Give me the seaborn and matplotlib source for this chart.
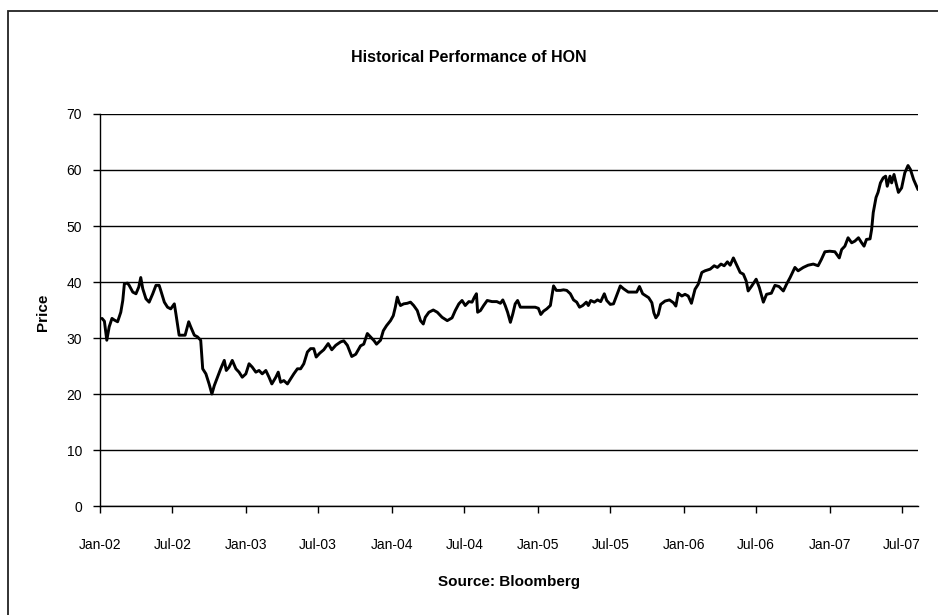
import pandas as pd
import matplotlib
matplotlib.use("Agg")
import matplotlib.pyplot as plt
import matplotlib.dates as mdates
from matplotlib.patches import Rectangle
import seaborn as sns

# Dữ liệu: số ngày kể từ 01/01/2002 và giá
day_offset = [
    5, 11, 17, 23, 30, 36, 44, 52, 57, 61, 69, 73, 82, 90, 97, 102, 107, 115, 123, 132,
    140, 148, 152, 161, 169, 177, 186, 190, 198, 207, 213, 222, 227, 236, 244, 252, 257, 265, 273, 280,
    286, 294, 302, 311, 316, 323, 331, 340, 348, 356, 365, 373, 381, 390, 398, 406, 415, 423, 430, 440,
    446, 452, 460, 469, 477, 485, 494, 502, 510, 519, 527, 535, 541, 550, 560, 571, 580, 590, 602, 610,
    619, 630, 640, 652, 660, 669, 677,
    686, 692, 702, 709, 717, 727, 734, 739, 744, 748, 752, 760, 769, 777, 785, 794, 802, 809, 814, 823,
    834, 844, 856, 869, 881, 889, 898, 906, 914, 923, 931, 937, 942, 945, 952, 960, 969, 981, 993, 1002,
    1008, 1014, 1020, 1027, 1033, 1039, 1045, 1052, 1064, 1077, 1089, 1097, 1103, 1110, 1118, 1127, 1131, 1135, 1142, 1152,
    1160, 1168, 1177, 1185, 1193, 1200, 1208, 1217, 1222, 1228, 1237, 1245, 1253, 1262, 1268, 1277, 1285, 1293, 1302, 1310,
    1322, 1335, 1343, 1350, 1358,
    1373, 1381, 1386, 1391, 1397, 1403, 1414, 1425, 1435, 1441, 1447, 1456, 1464, 1472, 1480, 1489, 1497, 1506, 1514, 1527,
    1537, 1545, 1554, 1562, 1570, 1577, 1585, 1594, 1602, 1610, 1617, 1622, 1631, 1642, 1650, 1660, 1668, 1680, 1689, 1699,
    1710, 1718, 1727, 1739, 1747, 1760, 1772, 1785, 1797, 1805, 1814, 1826, 1839, 1850, 1856, 1864, 1872, 1881, 1889, 1898,
    1906, 1912, 1918, 1927, 1931, 1935, 1942, 1947, 1953, 1960, 1966, 1970, 1977, 1981, 1987, 1992, 1998, 2006, 2014, 2022,
    2028, 2036, 2047,
]
price = [
    33.5, 33.0, 29.6, 32.0, 33.5, 33.2, 32.9, 34.6, 36.7, 39.7, 39.8, 39.4, 38.2, 37.9, 39.1, 40.8, 38.8, 37.0, 36.4, 37.9,
    39.4, 39.4, 38.5, 36.4, 35.5, 35.2, 36.1, 34.3, 30.5, 30.5, 30.5, 32.9, 32.0, 30.5, 30.2, 29.6, 24.5, 23.6, 21.8, 20.0,
    21.5, 23.0, 24.5, 26.0, 24.2, 24.8, 26.0, 24.5, 23.9, 23.0, 23.6, 25.4, 24.8, 23.9, 24.2, 23.6, 24.2, 23.0, 21.8, 23.0,
    23.9, 22.1, 22.4, 21.8, 22.7, 23.6, 24.5, 24.5, 25.4, 27.5, 28.1, 28.1, 26.6, 27.3, 27.9, 29.0, 27.9, 28.7, 29.3, 29.5,
    28.7, 26.7, 27.1, 28.6, 28.9, 30.8, 30.2,
    29.5, 28.9, 29.6, 31.3, 32.2, 33.1, 34.0, 35.5, 37.3, 36.4, 35.8, 36.1, 36.2, 36.4, 35.8, 34.9, 33.1, 32.5, 33.7, 34.6,
    35.0, 34.6, 33.7, 33.1, 33.6, 34.9, 36.1, 36.7, 35.8, 36.5, 36.4, 37.3, 37.9, 34.6, 34.9, 35.8, 36.7, 36.5, 36.5, 36.2,
    36.8, 35.8, 34.6, 32.8, 34.3, 36.1, 36.7, 35.5, 35.5, 35.5, 35.5, 35.3, 34.2, 34.8, 35.2, 35.8, 37.6, 39.3, 38.5, 38.5,
    38.6, 38.5, 37.9, 36.8, 36.4, 35.5, 35.8, 36.4, 35.8, 36.7, 36.4, 36.8, 36.5, 37.9, 36.7, 36.0, 36.1, 37.6, 39.3, 38.8,
    38.2, 38.2, 38.2, 39.2, 37.9,
    37.2, 36.3, 34.5, 33.6, 34.2, 36.0, 36.6, 36.8, 36.3, 35.7, 38.0, 37.5, 37.8, 37.5, 36.2, 38.7, 39.6, 41.7, 42.0, 42.3,
    42.9, 42.6, 43.2, 42.9, 43.6, 43.0, 44.3, 42.9, 41.7, 41.4, 40.2, 38.4, 39.3, 40.5, 39.0, 36.4, 37.8, 38.0, 39.4, 39.2,
    38.4, 39.6, 40.8, 42.6, 42.0, 42.6, 43.0, 43.2, 42.9, 44.0, 45.4, 45.5, 45.4, 44.3, 45.8, 46.4, 47.9, 47.0, 47.3, 47.9,
    47.0, 46.4, 47.6, 47.7, 49.4, 52.4, 55.1, 56.0, 57.7, 58.6, 58.9, 57.1, 58.9, 57.7, 59.2, 57.7, 56.0, 56.8, 59.5, 60.8,
    60.1, 58.3, 56.5,
]
y_ticks = [0, 10, 20, 30, 40, 50, 60, 70]

start = pd.Timestamp("2002-01-01")
df = pd.DataFrame({
    "Date": start + pd.to_timedelta(day_offset, unit="D"),
    "Price": price,
})

sns.set_style("white")
plt.rcParams["font.family"] = ["Liberation Sans", "DejaVu Sans"]
plt.rcParams["text.color"] = "black"
plt.rcParams["xtick.color"] = "black"
plt.rcParams["ytick.color"] = "black"

fig = plt.figure(figsize=(9.38, 6.15), dpi=100)
ax = fig.add_axes([100 / 938, 1 - 506 / 615, 818 / 938, 392 / 615])

sns.lineplot(data=df, x="Date", y="Price", color="black", linewidth=2.1,
             estimator=None, ax=ax, zorder=3)

ax.set_ylim(0, 70)
ax.set_yticks(y_ticks)
ax.set_xlim(start, df["Date"].iloc[-1])
ax.xaxis.set_major_locator(mdates.MonthLocator(bymonth=[1, 7]))
ax.xaxis.set_major_formatter(mdates.DateFormatter("%b-%y"))

ax.grid(axis="y", color="black", linewidth=1.0)
ax.grid(axis="x", visible=False)
for s in ["top", "right"]:
    ax.spines[s].set_visible(False)
for s in ["left", "bottom"]:
    ax.spines[s].set_color("black")
    ax.spines[s].set_linewidth(1.0)

ax.tick_params(axis="y", direction="out", length=5, width=1, color="black",
               labelcolor="black", left=True, labelsize=10, pad=8)
ax.tick_params(axis="x", direction="out", length=5, width=1, color="black",
               labelcolor="black", bottom=True, labelsize=10, pad=18)

ax.set_xlabel("")
ax.set_ylabel("")
fig.text(509 / 938, 1 - 582 / 615, "Source: Bloomberg", ha="center", va="center",
         fontsize=11, fontweight="bold", color="black")
fig.text(43 / 938, 1 - 312 / 615, "Price", ha="center", va="center",
         rotation=90, fontsize=11, fontweight="bold", color="black")
fig.text(469 / 938, 1 - 57 / 615, "Historical Performance of HON", ha="center",
         va="center", fontsize=11.5, fontweight="bold", color="black")

# Khung viền ngoài (chỉ thấy cạnh trên và cạnh trái)
fig.patches.append(Rectangle((8 / 938, -0.1), 1.2, 1.1 - 11 / 615,
                             transform=fig.transFigure, fill=False,
                             edgecolor="#222222", linewidth=1.3))

fig.savefig("out.png", dpi=100)
